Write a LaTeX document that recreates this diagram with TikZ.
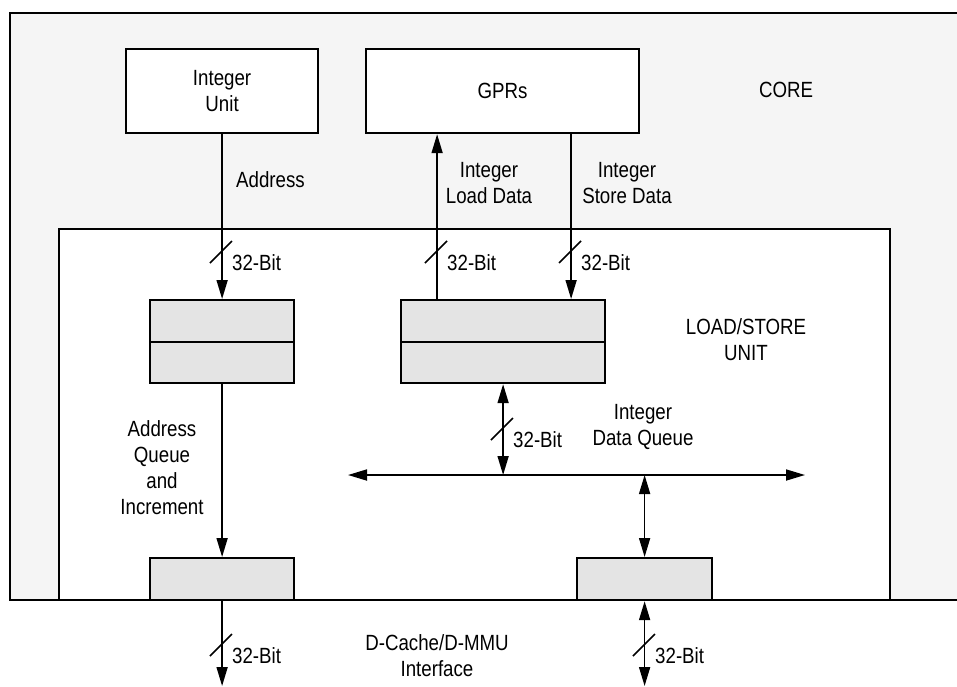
\documentclass[tikz,border=0pt]{standalone}
\usepackage{fontspec}
\setmainfont{Liberation Sans}[FakeStretch=0.85]
\usetikzlibrary{arrows.meta,positioning}
\definecolor{core-gray}{HTML}{F5F5F5}
\definecolor{reg-gray}{HTML}{E4E4E4}
\tikzset{
    area-box/.style = {draw, line width=1.7pt, rectangle, anchor=north west, inner sep=0pt},
    unit-box/.style = {draw, fill=white, line width=2.2pt, rectangle, anchor=north west, align=center, inner sep=0pt},
    reg-box/.style = {draw, fill=reg-gray, line width=2.2pt, rectangle, anchor=north west, inner sep=0pt},
    bus/.style = {line width=1.7pt, -{Triangle[length=19pt,width=11pt]}},
    bus-both/.style = {line width=1.7pt, {Triangle[length=19pt,width=11pt]}-{Triangle[length=19pt,width=11pt]}},
    bit-label/.style = {anchor=west, inner sep=0pt},
    sig-label/.style = {align=center, inner sep=0pt},
}
\newcommand{\bitmark}[1]{%
    \draw[line width=1.7pt] (#1) ++(-11,11) -- ++(22,-22);
    \path (#1) ++(11,11) node[bit-label] {32-Bit};}

\begin{document}
\begin{tikzpicture}[x=1pt, y=-1pt, every node/.style={font=\fontsize{22pt}{26pt}\selectfont}]
\useasboundingbox (0,0) rectangle (957,686);
% core and load/store unit
\node[area-box, fill=core-gray, minimum width=960pt, minimum height=587pt] (core) at (9,12) {};
\node[area-box, fill=white, minimum width=831pt, minimum height=371pt] (lsu) at (58,228) {};
\node at (786,90) (core-label) {CORE};
\node[sig-label] at (746,340) (lsu-label) {LOAD/STORE\\UNIT};

% units in the core
\node[unit-box, minimum width=192pt, minimum height=84pt] (int-unit) at (125,48) {Integer\\Unit};
\node[unit-box, minimum width=273pt, minimum height=84pt] (gprs) at (365,48) {GPRs};

% queues
\node[reg-box, minimum width=144pt, minimum height=83pt] (addr-reg) at (149,299) {};
\node[reg-box, minimum width=204pt, minimum height=83pt] (data-reg) at (400,299) {};
\draw[line width=2.2pt] (addr-reg.west) -- (addr-reg.east);
\draw[line width=2.2pt] (data-reg.west) -- (data-reg.east);
\node[reg-box, minimum width=144pt, minimum height=42pt] (addr-out) at (149,557) {};
\node[reg-box, minimum width=135pt, minimum height=42pt] (data-out) at (576,557) {};

\coordinate (bus-w) at (348,475);
\coordinate (bus-e) at (805,475);
\coordinate (bottom) at (0,686);

% connectors
\draw[bus] (int-unit.south) -- (addr-reg.north);
\draw[bus] ([xshift=-66pt]data-reg.north) -- ([xshift=-66pt]data-reg.north |- gprs.south);
\draw[bus] ([xshift=68pt]data-reg.north |- gprs.south) -- ([xshift=68pt]data-reg.north);
\draw[bus] (addr-reg.south) -- (addr-out.north);
\draw[bus-both] (data-reg.south) -- (data-reg.south |- bus-w);
\draw[bus-both] (bus-w) -- (bus-e);
\draw[bus-both] (data-out.north |- bus-w) -- (data-out.north);
\draw[bus] (addr-out.south) -- (addr-out.south |- bottom);
\draw[bus-both] (data-out.south) -- (data-out.south |- bottom);

\bitmark{221,252}
\bitmark{436,252}
\bitmark{570,252}
\bitmark{502,429}
\bitmark{221,645}
\bitmark{644,645}

% labels
\node[bit-label] at (236,180) (addr-label) {Address};
\node[sig-label] at (489,183) (load-label) {Integer\\Load Data};
\node[sig-label] at (627,183) (store-label) {Integer\\Store Data};
\node[sig-label] at (643,427) (dq-label) {Integer\\Data Queue};
\node[sig-label] at (162,468) (aq-label) {Address\\Queue\\and\\Increment};
\node[sig-label] at (437,656) (dmmu-label) {D-Cache/D-MMU\\Interface};
\end{tikzpicture}
\end{document}
